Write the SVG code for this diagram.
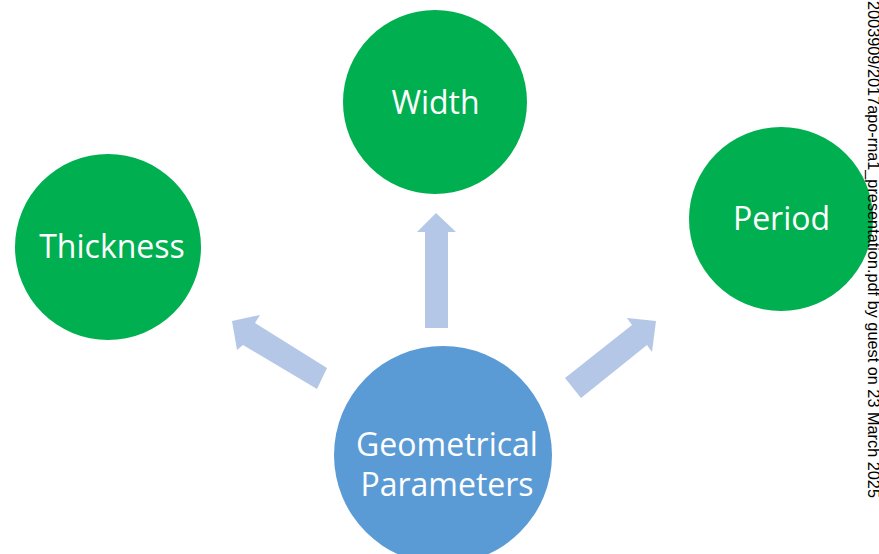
<svg xmlns="http://www.w3.org/2000/svg" width="879" height="554" viewBox="0 0 879 554">
<style>
.green{fill:#00B050}
.blue{fill:#5B9BD5}
.arrow{fill:#B4C7E7}
.lbl{font-family:"Open Sans","Liberation Sans",sans-serif;font-size:32px;fill:#FFFFFF;text-anchor:middle}
.wm{font-family:"Liberation Sans",Arial,sans-serif;font-size:16.3px;fill:#000000}
</style>
<rect width="879" height="554" fill="#FFFFFF"/>
<g id="connectors">
<polygon class="arrow" points="425,328 448,328 448,232 456,232 436,213 417,232 425,232"/>
<polygon class="arrow" points="327,368 317,389 243,345 237,350 232,321 260,315 255,323"/>
<polygon class="arrow" points="565,378 581,398 647,345 652,352 656,321 627,318 632,325"/>
</g>
<g id="node-width">
<circle class="green" cx="435" cy="102" r="92"/>
<text class="lbl" x="435.5" y="114">Width</text>
</g>
<g id="node-thickness">
<circle class="green" cx="108" cy="247" r="93"/>
<text class="lbl" x="112" y="258">Thickness</text>
</g>
<g id="node-period">
<circle class="green" cx="781" cy="219" r="92"/>
<text class="lbl" x="781.5" y="230">Period</text>
</g>
<g id="node-geometrical">
<circle class="blue" cx="443" cy="455" r="109"/>
<text class="lbl" x="447" y="456">Geometrical</text>
<text class="lbl" x="447" y="496">Parameters</text>
</g>
<text class="wm" transform="translate(868,0) rotate(90)" x="1" y="0">2003909/2017apo-rna1_presentation.pdf by guest on 23 March 2025</text>
</svg>
